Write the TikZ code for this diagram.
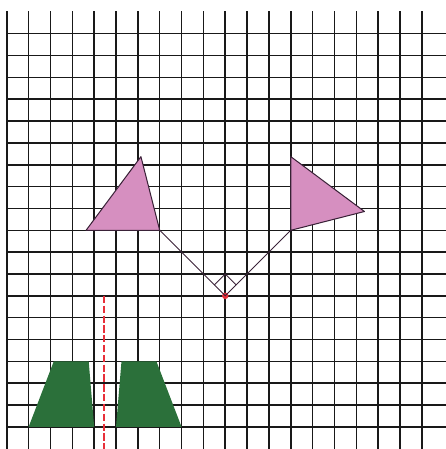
\documentclass[tikz,border=0pt]{standalone}
\usetikzlibrary{calc}
\definecolor{triPink}{HTML}{D68FC0}
\definecolor{trapGreen}{HTML}{2B703A}
\definecolor{axisRed}{HTML}{E8303A}
\definecolor{armLine}{HTML}{3A2238}

\begin{document}
\begin{tikzpicture}[x=0.6cm, y=0.6cm,
    gridline/.style={black!90, line width=1.2pt},
    tri/.style={fill=triPink, draw=armLine, line width=0.8pt, line join=round},
    trap/.style={fill=trapGreen},
    arm/.style={armLine, line width=0.7pt},
    mirrorline/.style={axisRed, line width=1.7pt, dash pattern=on 0.2cm off 0.07cm},
    centre/.style={circle, fill=axisRed, inner sep=0pt, minimum size=1.8mm},
  ]
  \useasboundingbox (-0.31,-1.01) rectangle (20.09,19.54);
  % squared paper
  \foreach \i in {0,...,19} \draw[gridline] (\i,-1.01) -- (\i,19.04);
  \foreach \j in {0,...,18} \draw[gridline] (0,\j) -- (20.09,\j);
  % rotation about the centre
  \coordinate (L1) at (7,9);
  \coordinate (L2) at (3.63,9);
  \coordinate (L3) at (6.14,12.37);
  \coordinate (R1) at (13,9);
  \coordinate (R2) at (13,12.37);
  \coordinate (R3) at (16.37,9.86);
  \draw[tri] (L1) -- (L2) -- (L3) -- cycle;
  \draw[tri] (R1) -- (R2) -- (R3) -- cycle;
  \node[centre] (O) at (10,6) {};
  \draw[arm] (L1) -- (O.center) -- (R1);
  \draw[arm] (9.5,6.5) -- (10,7) -- (10.5,6.5);
  % reflection in a line
  \fill[trap] (1,0) -- (4,0) -- (3.75,3) -- (2.15,3) -- cycle;
  \fill[trap] (5,0) -- (8,0) -- (6.85,3) -- (5.25,3) -- cycle;
  \coordinate (M1) at (4.45,6);
  \coordinate (M2) at (4.45,-1.01);
  \draw[mirrorline] (M1) -- (M2);
\end{tikzpicture}
\end{document}
